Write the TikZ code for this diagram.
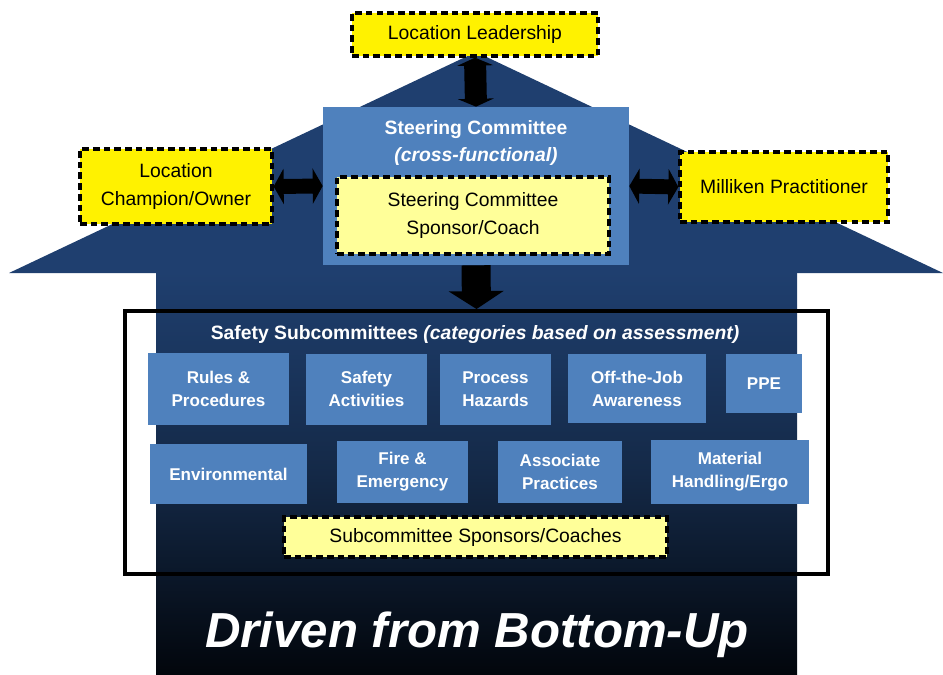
\documentclass[tikz,border=0pt]{standalone}
\usepackage{fontspec}
\setmainfont{Liberation Sans}
\usetikzlibrary{arrows.meta}
\definecolor{boxblue}{HTML}{4F81BD}
\definecolor{roofblue}{HTML}{1F3F6F}
\definecolor{midblue}{HTML}{142947}
\definecolor{darkbase}{HTML}{02060C}
\definecolor{paleyellow}{HTML}{FFFF99}

\begin{document}
\begin{tikzpicture}
    [x=0.02cm,y=-0.02cm,
     dashbox/.style={draw=black,line width=1.9pt,dash pattern=on 3.8pt off 2.3pt,inner sep=0pt,align=center,font=\fontsize{11}{15.5}\selectfont},
     yellowbox/.style={dashbox,fill=yellow},
     paleybox/.style={dashbox,fill=paleyellow},
     bluebox/.style={fill=boxblue,text=white,inner sep=0pt,align=center,font=\fontsize{9.7}{13}\selectfont\bfseries}]
    \useasboundingbox (0,0) rectangle (943,674);

    \fill[roofblue] (9,273) -- (476,52) -- (943,273) -- cycle;
    \shade[top color=roofblue,bottom color=darkbase,middle color=midblue] (156,272) rectangle (797,674);

    \node[fill=boxblue,minimum width=6.12cm,minimum height=3.16cm] (steer) at (476,186) {};
    \node[text=white,align=center,font=\fontsize{11}{15.3}\selectfont\bfseries] (steertitle) at (476,143) {Steering Committee\\\textit{(cross-functional)}};
    \node[paleybox,minimum width=5.44cm,minimum height=1.54cm] (coach) at (473,215.5) {Steering Committee\\Sponsor/Coach};
    \node[yellowbox,minimum width=4.92cm,minimum height=0.86cm] (lead) at (475,34.5) {Location Leadership};
    \node[yellowbox,minimum width=3.84cm,minimum height=1.5cm] (champ) at (176,186.5) {Location\\Champion/Owner};
    \node[yellowbox,minimum width=4.16cm,minimum height=1.4cm] (milliken) at (784,187) {Milliken Practitioner};

    \node[draw=black,line width=2.3pt,minimum width=14.06cm,minimum height=5.26cm] (subs) at (476.5,442.5) {};
    \node[text=white,font=\fontsize{11}{13}\selectfont\bfseries] (subhead) at (475,334) {Safety Subcommittees \textit{(categories based on assessment)}};

    \node[bluebox,minimum width=2.82cm,minimum height=1.44cm] (rules) at (218.5,389) {Rules \&\\Procedures};
    \node[bluebox,minimum width=2.42cm,minimum height=1.42cm] (activ) at (366.5,389) {Safety\\Activities};
    \node[bluebox,minimum width=2.22cm,minimum height=1.42cm] (process) at (495.5,389) {Process\\Hazards};
    \node[bluebox,minimum width=2.76cm,minimum height=1.38cm] (offjob) at (637,388.5) {Off-the-Job\\Awareness};
    \node[bluebox,minimum width=1.52cm,minimum height=1.18cm] (ppe) at (764,383.5) {PPE};

    \node[bluebox,minimum width=3.14cm,minimum height=1.2cm] (envir) at (228.5,474) {Environmental};
    \node[bluebox,minimum width=2.62cm,minimum height=1.24cm] (fire) at (402.5,472) {Fire \&\\Emergency};
    \node[bluebox,minimum width=2.48cm,minimum height=1.24cm] (assoc) at (560,472) {Associate\\Practices};
    \node[bluebox,minimum width=3.16cm,minimum height=1.28cm] (material) at (730,472) {Material\\Handling/Ergo};

    \node[paleybox,minimum width=7.66cm,minimum height=0.8cm] (spons) at (475.5,537) {Subcommittee Sponsors/Coaches};

    \node[text=white,anchor=base,font=\fontsize{28}{30}\selectfont\bfseries\itshape] (driven) at (477,647) {Driven from Bottom-Up};

    \draw[line width=12.5pt,{Triangle[length=4.5pt,width=20.4pt]}-{Triangle[length=4.5pt,width=20.4pt]}] (lead.south) -- (steer.north);
    \draw[line width=8.5pt,{Triangle[length=5.7pt,width=20pt]}-{Triangle[length=5.7pt,width=20pt]}] (champ.east) -- (steer.west);
    \draw[line width=8.5pt,{Triangle[length=5.7pt,width=20pt]}-{Triangle[length=5.7pt,width=20pt]}] (steer.east) -- (milliken.west);
    \draw[line width=16.5pt,-{Triangle[length=10.2pt,width=31pt]}] (steer.south) -- (subs.north);
\end{tikzpicture}
\end{document}
